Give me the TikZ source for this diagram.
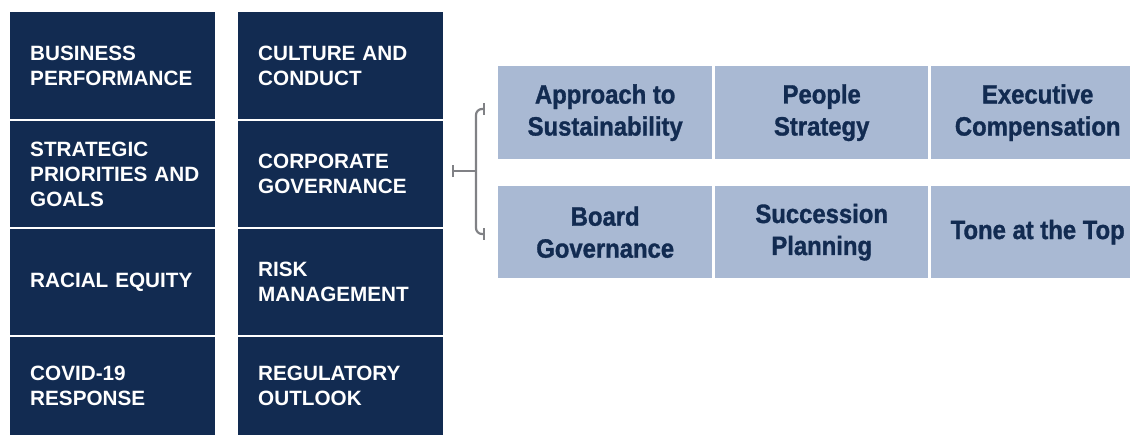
\documentclass[tikz,border=0pt]{standalone}
\usepackage{fontspec}
\setmainfont{Liberation Sans}
\newfontfamily\narrowfont[FakeStretch=0.9,FakeBold=1.2]{Liberation Sans}
\usetikzlibrary{arrows.meta}

\definecolor{navy}{HTML}{122B51}
\definecolor{paleblue}{HTML}{A9B9D3}
\definecolor{bracketgray}{HTML}{808185}

\begin{document}
\begin{tikzpicture}[x=1pt,y=-1pt,
    topic/.style={fill=navy,text=white,anchor=north west,inner xsep=20pt,inner ysep=0pt,
      text width=165pt,minimum width=205pt,align=left,
      font=\fontsize{20.7}{25}\selectfont\bfseries},
    focus/.style={fill=paleblue,text=navy,anchor=north west,inner sep=0pt,
      minimum width=213pt,minimum height=93pt,align=center,
      font=\narrowfont\fontsize{26.5}{32}\selectfont\bfseries},
    brace/.style={draw=bracketgray,line width=2.2pt}]

  \pgfmathsetmacro\colA{10}     % left topic column
  \pgfmathsetmacro\colB{238}    % second topic column
  \pgfmathsetmacro\rowA{66}     % upper row of focus areas
  \pgfmathsetmacro\rowB{186}    % lower row of focus areas

  \useasboundingbox (0,0) rectangle (1130,436);
  \clip (0,0) rectangle (1130,436);

% topic columns
  \node[topic,minimum height=107pt] (perf)   at (\colA,12)  {BUSINESS\\PERFORMANCE};
  \node[topic,minimum height=106pt] (goals)  at (\colA,121) {STRATEGIC\\PRIORITIES~AND\\GOALS};
  \node[topic,minimum height=106pt] (equity) at (\colA,229) {RACIAL~EQUITY};
  \node[topic,minimum height=98pt]  (covid)  at (\colA,337) {COVID-19\\RESPONSE};

  \node[topic,minimum height=107pt] (culture) at (\colB,12)  {CULTURE~AND\\CONDUCT};
  \node[topic,minimum height=106pt] (gov)     at (\colB,121) {CORPORATE\\GOVERNANCE};
  \node[topic,minimum height=106pt] (risk)    at (\colB,229) {RISK\\MANAGEMENT};
  \node[topic,minimum height=98pt]  (outlook) at (\colB,337) {REGULATORY\\OUTLOOK};

% focus areas
  \node[focus,minimum width=214pt] (sust)   at (498,\rowA) {Approach to\\Sustainability};
  \node[focus]                     (people) at (715,\rowA) {People\\Strategy};
  \node[focus]                     (pay)    at (931,\rowA) {Executive\\Compensation};

  \node[focus,minimum width=214pt,minimum height=92pt] (board) at (498,\rowB) {Board\\Governance};
  \node[focus,minimum height=92pt] (succession) at (715,\rowB) {Succession\\Planning};
  \node[focus,minimum height=92pt] (tone)       at (931,\rowB) {Tone at the Top};

% bracket
  \coordinate (stem)  at (452,171);
  \coordinate (spine) at (476,171);
  \coordinate (upper) at (485,109);
  \coordinate (lower) at (485,234);
  \draw[brace,{Bar[width=12pt]}-{Bar[width=12pt]},rounded corners=6pt]
    (upper) -| (spine) |- (lower);
  \draw[brace,{Bar[width=12pt]}-] (stem) -- (spine);

\end{tikzpicture}
\end{document}
